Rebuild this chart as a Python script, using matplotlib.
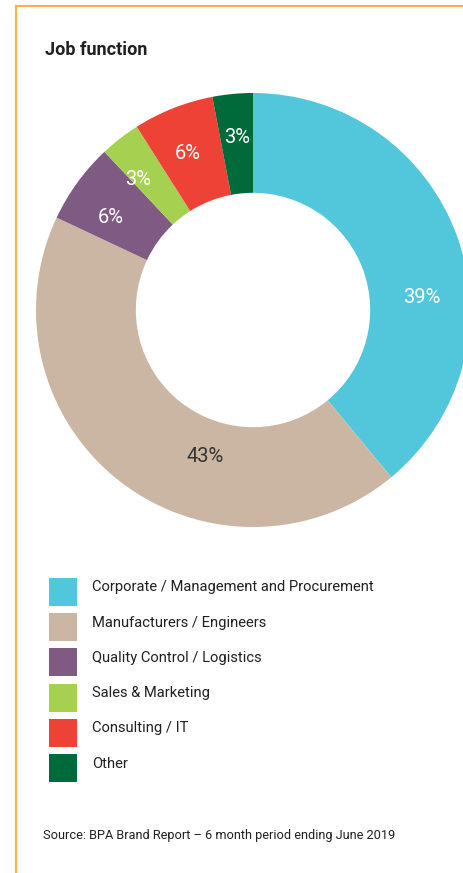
import numpy as np
import matplotlib.pyplot as plt
from matplotlib.patches import Rectangle
from matplotlib.lines import Line2D

# data
categories = ["Corporate / Management and Procurement", "Manufacturers / Engineers",
              "Quality Control / Logistics", "Sales & Marketing", "Consulting / IT", "Other"]
shares = [39, 43, 6, 3, 6, 3]
colors = ["#52C6DB", "#CBB6A3", "#7F5A82", "#A6D04F", "#EE4237", "#006A3A"]
label_colors = ["white", "#333333", "white", "white", "white", "white"]
# where each % label sits (angle in degrees, fraction of radius)
label_angles = [4.4, -108.2, 147, 131.5, 112.5, 95.2]
label_radii = [0.78, 0.71, 0.78, 0.80, 0.78, 0.80]

W, H = 464, 873
fig = plt.figure(figsize=(W / 100, H / 100), dpi=100)
plt.rcParams['font.family'] = ['Roboto', 'DejaVu Sans']

# orange frame (top + left)
fig.add_artist(Line2D([16 / W, 1], [1 - 6 / H, 1 - 6 / H], color="#FBB040", lw=1.5))
fig.add_artist(Line2D([16 / W, 16 / W], [0, 1 - 6 / H], color="#FBB040", lw=1.5))

fig.text(45 / W, 1 - 50 / H, "Job function", fontsize=13, fontweight="bold",
         color="#231F20", va="center", ha="left")

# donut: centre (253, 310) px, radius 217 px
cx, cy, r = 253, 310, 217
ax = fig.add_axes([(cx - r) / W, 1 - (cy + r) / H, 2 * r / W, 2 * r / H])
wedges, texts, autotexts = ax.pie(shares, colors=colors, startangle=90, counterclock=False,
                                  radius=1, wedgeprops=dict(width=0.46, linewidth=0),
                                  autopct="%d%%", pctdistance=0.78,
                                  textprops=dict(fontsize=14.5))
for t, c, a, d in zip(autotexts, label_colors, label_angles, label_radii):
    t.set_color(c)
    t.set_position((d * np.cos(np.deg2rad(a)), d * np.sin(np.deg2rad(a))))
ax.set_xlim(-1, 1)
ax.set_ylim(-1, 1)
ax.set_aspect("equal")
ax.axis("off")

# legend
for i, (lab, col) in enumerate(zip(categories, colors)):
    top = 578 + i * 35.2
    fig.add_artist(Rectangle((49 / W, 1 - (top + 28) / H), 28 / W, 28 / H,
                             transform=fig.transFigure, color=col, lw=0))
    fig.text(92 / W, 1 - (top + 9.5) / H, lab, fontsize=10.6, color="#231F20",
             va="center", ha="left")

fig.text(43 / W, 1 - 836 / H, "Source: BPA Brand Report \u2013 6 month period ending June 2019",
         fontsize=9.2, color="#231F20", va="center", ha="left")

fig.savefig("out.png", dpi=100)
